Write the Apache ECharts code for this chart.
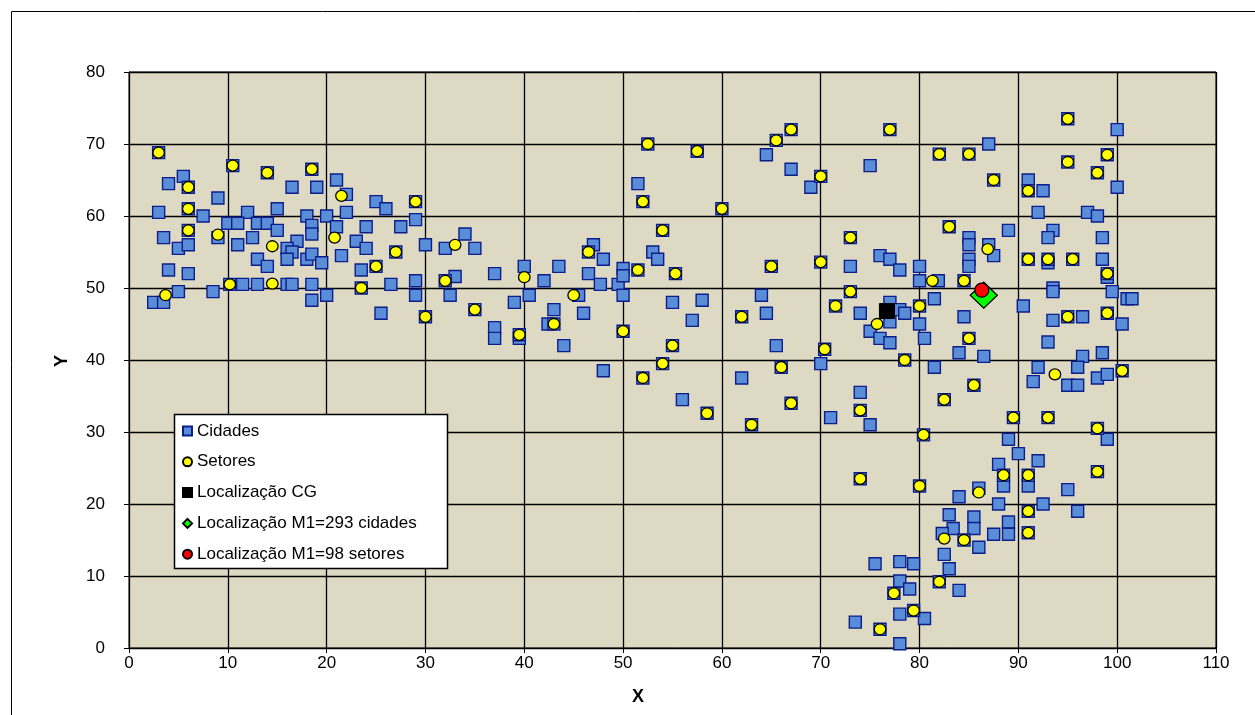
<!DOCTYPE html>
<html><head><meta charset="utf-8">
<script src="https://cdn.jsdelivr.net/npm/echarts@6/dist/echarts.min.js"></script>
<style>html,body{margin:0;padding:0;background:#fff;overflow:hidden}#c{width:1255px;height:715px}</style>
</head><body><div id="c"></div>
<script>
// Axis ranges
const xRange = [0, 110, 10];
const yRange = [0, 80, 10];

// Cidades (squares) not hidden under a sector marker
const cidades = [
 [2.5,48],[3.5,48],[5,49.5],[8.5,49.5],[4,64.5],[5.5,65.5],[21,65],[16.5,64],[19,64],[22,63],[9,62.5],[25,62],[26,61],
 [3,60.5],[7.5,60],[12,60.5],[15,61],[18,60],[20,60],[22,60.5],[10,59],[11,59],[13,59],[14,59],[15,58],[18.5,58.7],
 [18.5,57.5],[21,58.5],[24,58.5],[27.5,58.5],[9,57],[3.5,57],[5,55.5],[6,56],[11,56],[12.5,57],[17,56.5],[16,55.5],
 [16.5,55],[16,54],[18,54],[18.5,54.7],[19.5,53.5],[21.5,54.5],[23,56.5],[24,55.5],[13,54],[14,53],[4,52.5],[6,52],
 [23.5,52.5],[11.5,50.5],[13,50.5],[16,50.5],[16.5,50.5],[18.5,50.5],[18.5,48.3],[20,49],[26.5,50.5],[25.5,46.5],
 [29,59.5],[30,56],[34,57.5],[32,55.5],[35,55.5],[29,51],[33,51.6],[37,52],[40,53],[42,51],[43.5,53],[29,49],[32.5,49],
 [45.5,49],[46.5,52],[47,56],[48,54],[47.7,50.5],[49.5,50.5],[50,52.7],[50,51.7],[50,49],[51.5,64.5],[53,55],[53.5,54],
 [55,48],[37,44.5],[37,43],[39,48],[39.5,43],[40.5,49],[43,47],[42.4,45],[44,42],[46,46.5],[48,38.5],[56,34.5],[58,48.3],
 [57,45.5],[64,49],[64.5,46.5],[65.5,42],[62,37.5],[70,39.5],[64.5,68.5],[67,66.5],[69,64],[75,67],
 [73,53],[76,54.5],[77,54],[78,52.5],[80,53],[80,51],[81.9,51],[81.5,48.5],[74,46.5],[77,48],[78,47],[78.5,46.5],
 [77,45.3],[75,44],[76,43],[77,42.4],[80,45],[80.5,43],[81.5,39],[74,35.5],[71,32],[75,31],
 [87,70],[100,72],[100,64],[91,65],[92.5,63.5],[92,60.5],[97,60.5],[98,60],[89,58],[85,57],[85,56],[93.5,58],[93,57],
 [98.5,57],[87,56],[87.5,54.5],[85,54],[85,53],[93,53.5],[98.5,54],[99,51.5],[93.5,50],[93.5,49.5],[99.5,49.5],
 [101,48.5],[101.5,48.5],[90.5,47.5],[84.5,46],[96.5,46],[93.5,45.5],[100.5,45],[93,42.5],[84,41],[86.5,40.5],
 [98.5,41],[96.5,40.5],[96,39],[92,39],[91.5,37],[95,36.5],[96,36.5],[98,37.5],[99,38],
 [99,29],[89,29],[90,27],[92,26],[88,25.5],[88.5,22.5],[91,22.5],[95,22],[88,20],[92.5,20],[96,19],[89,17.5],
 [87.5,15.8],[89,15.8],[84,21],[86,22.2],[83,18.5],[85.5,18.2],[85.5,16.6],[83.4,16.6],[82.3,15.9],[86,14],[82.5,13],
 [83,11],[84,8],[75.5,11.7],[78,12],[79.4,11.7],[78,9.3],[79,8.2],[78,4.7],[80.5,4.1],[73.5,3.6],[78,0.6]
];

// Setores: [x, y, cityUnderneath(1/0)]
const setores = [
 [3,68.8,1],[6,64,1],[10.5,67,1],[14,66,1],[18.5,66.5,1],[21.5,62.8,0],[6,61,1],[6,58,1],[9,57.4,0],[20.8,57,0],
 [14.5,55.8,0],[27,55,1],[25,53,1],[10.2,50.5,1],[14.5,50.6,0],[23.5,50,1],[3.7,49,0],
 [29,62,1],[33,56,0],[32,51,1],[40,51.5,0],[45,49,0],[46.5,55,1],[51.5,52.5,1],[52,62,1],[52.5,70,1],[54,58,1],
 [55.3,52,1],[30,46,1],[35,47,1],[39.5,43.5,1],[43,45,1],[50,44,1],[55,42,1],[54,39.5,1],[52,37.5,1],
 [57.5,69,1],[60,61,1],[65.5,70.5,1],[67,72,1],[70,65.5,1],[77,72,1],[82,68.6,1],[83,58.5,1],[73,57,1],[65,53,1],
 [70,53.6,1],[81.3,51,0],[73,49.5,1],[62,46,1],[66,39,1],[58.5,32.6,1],[67,34,1],[70.4,41.5,1],[71.5,47.5,1],
 [75.7,45,0],[80,47.5,1],[78.5,40,1],[74,33,1],[82.5,34.5,1],[63,31,1],
 [85,68.6,1],[87.5,65,1],[95,73.5,1],[95,67.5,1],[99,68.5,1],[98,66,1],[91,63.5,1],[86.9,55.4,0],[91,54,1],[93,54,1],
 [95.5,54,1],[99,52,1],[84.5,51,1],[95,46,1],[99,46.5,1],[85,43,1],[93.7,38,0],[100.5,38.5,1],[85.5,36.5,1],
 [89.5,32,1],[93,32,1],
 [98,30.5,1],[88.5,24,1],[91,24,1],[98,24.5,1],[91,19,1],[91,16,1],[80.4,29.6,1],[74,23.5,1],[80,22.5,1],[86,21.6,0],
 [82.5,15.2,0],[84.5,15,1],[82,9.2,1],[77.4,7.6,1],[79.4,5.2,1],[76,2.6,1]
];

const localCG = [[76.7,46.8]];
const localM1Cidades = [[86.5,49]];
const localM1Setores = [[86.3,49.7]];

const names = ['Cidades','Setores','Localização CG','Localização M1=293 cidades','Localização M1=98 setores'];

const cidadesAll = cidades.concat(setores.filter(s => s[2] === 1).map(s => [s[0], s[1]]));
const setoresXY = setores.map(s => [s[0], s[1]]);

const FONT = '"Liberation Sans", Arial, sans-serif';
const chart = echarts.init(document.getElementById('c'), null, {renderer:'canvas'});
chart.setOption({
  animation: false,
  backgroundColor: '#ffffff',
  grid: {left:129, top:72, right:39, bottom:67, show:true, backgroundColor:'#DDD9C3', borderColor:'#000', borderWidth:1},
  xAxis: {type:'value', min:xRange[0], max:xRange[1], interval:xRange[2],
    axisLine:{show:true, onZero:false, lineStyle:{color:'#000', width:1}},
    axisTick:{show:true, inside:false, length:5, lineStyle:{color:'#000'}},
    axisLabel:{color:'#000', fontSize:17, fontFamily:FONT, margin:7},
    splitLine:{show:true, lineStyle:{color:'#000', width:1.3}}},
  yAxis: {type:'value', min:yRange[0], max:yRange[1], interval:yRange[2],
    axisLine:{show:true, onZero:false, lineStyle:{color:'#000', width:1}},
    axisTick:{show:true, inside:false, length:5, lineStyle:{color:'#000'}},
    axisLabel:{color:'#000', fontSize:17, fontFamily:FONT, margin:24},
    splitLine:{show:true, lineStyle:{color:'#000', width:1.3}}},
  legend: {show:true, z:20, orient:'vertical', left:182, top:422, padding:0, itemGap:12.8,
    itemWidth:9, itemHeight:9, data:names,
    textStyle:{fontSize:17, fontFamily:FONT, color:'#000', lineHeight:18}},
  graphic: [
    {type:'rect', z:-1, shape:{x:11.5, y:11.5, width:1400, height:900}, style:{fill:'none', stroke:'#000', lineWidth:1}},
    {type:'rect', z:5, shape:{x:174.5, y:414.5, width:273, height:154}, style:{fill:'#fff', stroke:'#000', lineWidth:1.5}},
    {type:'text', z:10, x:638, y:697, style:{text:'X', font:'bold 18px '+FONT, fill:'#000', textAlign:'center', textVerticalAlign:'middle'}},
    {type:'text', z:10, x:62, y:361, rotation:Math.PI/2, style:{text:'Y', font:'bold 18px '+FONT, fill:'#000', textAlign:'center', textVerticalAlign:'middle'}}
  ],
  series: [
    {name:names[0], type:'scatter', symbol:'rect', symbolSize:12, data:cidadesAll, z:2,
      itemStyle:{color:'#5A8DD8', borderColor:'#0B1E8C', borderWidth:1.4, opacity:1}},
    {name:names[1], type:'scatter', symbol:'circle', symbolSize:[11.5,11], data:setoresXY, z:3,
      itemStyle:{color:'#FFFF00', borderColor:'#000', borderWidth:1.3, opacity:1}},
    {name:names[2], type:'scatter', symbol:'rect', symbolSize:15, data:localCG, z:4,
      itemStyle:{color:'#000', borderColor:'#000', borderWidth:1, opacity:1}},
    {name:names[3], type:'scatter', symbol:'diamond', symbolSize:[27,26], data:localM1Cidades, z:4,
      itemStyle:{color:'#00FF00', borderColor:'#000', borderWidth:1.3, opacity:1}},
    {name:names[4], type:'scatter', symbol:'circle', symbolSize:14, data:localM1Setores, z:4,
      itemStyle:{color:'#FF0000', borderColor:'#000', borderWidth:1.3, opacity:1}}
  ]
});
</script></body></html>
